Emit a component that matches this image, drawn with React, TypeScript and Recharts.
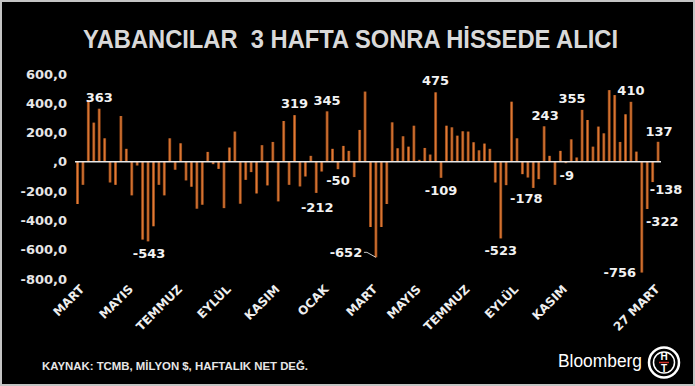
import React from "react";
import { BarChart, Bar, XAxis, YAxis, ReferenceLine, LabelList } from "recharts";

// Weekly net foreign equity flows (million $)
const flows: number[] = [
  -288, -157, 422, 268, 363, 161, -141, -157, 313, 89,
  -229, -25, -531, -543, -440, -157, -229, 161, -54, 127,
  -127, -170, -320, -293, 68, -16, -48, -316, 98, 207,
  -286, -123, -70, -216, 114, -161, 136, -270, 279, -157,
  319, -168, -100, 41, -212, -66, 345, 89, -50, 109,
  75, -104, 218, 480, -445, -652, -445, -288, 270, 93,
  175, 104, 247, 14, 95, 50, 475, -109, 247, 236,
  179, 209, 207, 134, 79, 125, 89, -141, -523, -159,
  411, 161, -84, -107, -178, -118, 243, 41, -157, 75,
  -9, 154, 30, 355, 286, 104, 241, 195, 490, 456,
  136, 325, 410, 70, -756, -322, -138, 137,
];

const tickWeeks: number[] = [1, 10, 19, 28, 37, 46, 55, 63, 72, 81, 90, 107];
const tickNames: string[] = [
  "MART", "MAYIS", "TEMMUZ", "EYLÜL", "KASIM", "OCAK",
  "MART", "MAYIS", "TEMMUZ", "EYLÜL", "KASIM", "27 MART",
];
const yTicks: number[] = [-800, -600, -400, -200, 0, 200, 400, 600];

const title = "YABANCILAR\u00A0 3 HAFTA SONRA HİSSEDE ALICI";
const source = "KAYNAK: TCMB, MİLYON $, HAFTALIK NET DEĞ.";

const data = flows.map((v, i) => ({ w: i, v }));

// label placement (style): offsets relative to bar tip
const labelStyle: Record<number, { dx: number; dy: number; leader?: boolean }> = {
  4: { dx: 0, dy: -6.5 },
  13: { dx: 1, dy: 17 },
  40: { dx: 0, dy: -7 },
  46: { dx: 0, dy: -6 },
  44: { dx: 1, dy: 19 },
  48: { dx: 0, dy: 16 },
  55: { dx: -30, dy: 0, leader: true },
  66: { dx: 0, dy: -7 },
  67: { dx: 0, dy: 17 },
  78: { dx: 0, dy: 17 },
  84: { dx: -7, dy: 15 },
  86: { dx: 1, dy: -6 },
  90: { dx: 1, dy: 17 },
  93: { dx: -10, dy: -7 },
  102: { dx: 0, dy: -7 },
  107: { dx: 1, dy: -6 },
  106: { dx: 13.5, dy: 12 },
  105: { dx: 15, dy: 17 },
  104: { dx: -22, dy: 4.5 },
};

const fmtY = (v: number) => (v === 0 ? ",0" : `${v},0`);

const XTick = (props: any) => {
  const { x, y, payload } = props;
  const i = tickWeeks.indexOf(payload.value);
  const label = i >= 0 ? tickNames[i] : "";
  const ax = x + 2;
  const ay = y + 3;
  return (
    <text
      x={ax}
      y={ay}
      textAnchor="end"
      transform={`rotate(-45 ${ax} ${ay})`}
      fill="#eeeeee"
      fontFamily="DejaVu Sans"
      fontWeight="bold"
      fontSize={12}
    >
      {label}
    </text>
  );
};

const BarLabel = (props: any) => {
  const { x, y, width, height, index, value } = props;
  const cfg = labelStyle[index];
  if (!cfg) return null;
  const cx = x + width / 2;
  const tip = value >= 0 ? Math.min(y, y + height) : Math.max(y, y + height);
  const tx = cx + cfg.dx;
  const ty = tip + cfg.dy;
  return (
    <g>
      <text
        x={tx}
        y={ty}
        textAnchor="middle"
        fill="#f2f2f2"
        fontFamily="DejaVu Sans"
        fontWeight="bold"
        fontSize={13}
      >
        {`${value}`}
      </text>
      {cfg.leader && (
        <path
          d={`M ${tx + 18} ${ty - 5} L ${tx + 21} ${ty - 5} L ${cx} ${tip}`}
          stroke="#cccccc"
          strokeWidth={1}
          fill="none"
        />
      )}
    </g>
  );
};

export default function App() {
  return (
    <div style={{ position: "absolute", left: 0, top: 0, width: 695, height: 386, background: "#000" }}>
      <BarChart
        width={695}
        height={386}
        data={data}
        margin={{ top: 74, right: 34, bottom: 0, left: 0 }}
        barSize={3}
      >
        <defs>
          <linearGradient id="barGrad" x1="0" y1="0" x2="1" y2="0">
            <stop offset="0%" stopColor="#7a3810" />
            <stop offset="50%" stopColor="#e27c36" />
            <stop offset="100%" stopColor="#7a3810" />
          </linearGradient>
        </defs>
        <XAxis
          dataKey="w"
          type="category"
          ticks={tickWeeks}
          interval={0}
          tick={<XTick />}
          tickLine={false}
          axisLine={false}
          height={107}
        />
        <YAxis
          domain={[-800, 600]}
          ticks={yTicks}
          tickFormatter={fmtY}
          tickLine={false}
          axisLine={false}
          width={75}
          interval={0}
          tick={{ fill: "#e6e6e6", fontFamily: "DejaVu Sans", fontWeight: "bold", fontSize: 13 }}
        />
        <ReferenceLine y={0} stroke="#e8e8e8" strokeWidth={1.5} />
        <Bar dataKey="v" fill="url(#barGrad)" isAnimationActive={false}>
          <LabelList dataKey="v" content={<BarLabel />} />
        </Bar>
      </BarChart>
      <svg
        width={695}
        height={386}
        style={{ position: "absolute", left: 0, top: 0, pointerEvents: "none" }}
      >
        <rect x={1} y={1} width={693} height={384} fill="none" stroke="#c4c4c4" strokeWidth={2} />
        <text
          x={83}
          y={48}
          textLength={535}
          lengthAdjust="spacingAndGlyphs"
          fill="#d9d9d9"
          fontFamily="Liberation Sans"
          fontWeight="bold"
          fontSize={26}
        >
          {title}
        </text>
        <text
          x={42}
          y={370}
          textLength={266}
          lengthAdjust="spacingAndGlyphs"
          fill="#e6e6e6"
          fontFamily="Liberation Sans"
          fontWeight="bold"
          fontSize={11}
        >
          {source}
        </text>
        <text x={558} y={367} fill="#ffffff" fontFamily="Liberation Sans" fontSize={18} textLength={84} lengthAdjust="spacingAndGlyphs">
          Bloomberg
        </text>
        <circle cx={664} cy={362.5} r={15} fill="#000" stroke="#ffffff" strokeWidth={2.5} />
        <circle cx={664} cy={362.5} r={10.5} fill="none" stroke="#ffffff" strokeWidth={1.5} />
        <text x={664} y={360} textAnchor="middle" fill="#ffffff" fontFamily="Liberation Sans" fontWeight="bold" fontSize={10}>H</text>
        <line x1={659} y1={362.5} x2={669} y2={362.5} stroke="#d0302a" strokeWidth={1.5} />
        <text x={664} y={372} textAnchor="middle" fill="#ffffff" fontFamily="Liberation Sans" fontWeight="bold" fontSize={10}>T</text>
      </svg>
    </div>
  );
}
